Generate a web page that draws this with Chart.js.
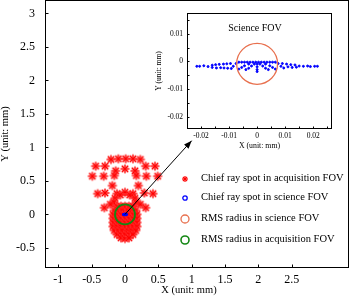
<!DOCTYPE html>
<html>
<head>
<meta charset="utf-8">
<script src="https://cdn.jsdelivr.net/npm/chart.js@4.4.1/dist/chart.umd.min.js"></script>
<style>
    body { margin: 0; background: #fff; }
    .wrap { position: relative; width: 350px; height: 302px; font-family: "Liberation Serif", "Times New Roman", serif; color: #000; }
    #main { position: absolute; left: 0; top: 0; }
    #inset { position: absolute; left: 150px; top: 5px; }
    .txt { position: absolute; white-space: nowrap; line-height: 1; }
    .key { position: absolute; left: 178px; height: 14px; }
    .key svg { position: absolute; left: 0; top: 0; }
    .key span { position: absolute; left: 23px; top: 1px; font-size: 10.5px; white-space: nowrap; line-height: 1; }
</style>
</head>
<body>
<div class="wrap">
    <canvas id="main" width="350" height="302"></canvas>
    <canvas id="inset" width="190" height="150"></canvas>
    <div class="txt" style="left:189px; top:290px; font-size:10.5px; transform:translate(-50%,-50%)">X (unit: mm)</div>
    <div class="txt" style="left:255px; top:28px; font-size:10px; transform:translate(-50%,-50%)">Science FOV</div>
    <div id="keys"></div>
</div>

<script>
    const serif = '"Liberation Serif", "Times New Roman", serif';

    // chief ray spots, acquisition FOV (mm)
    const acqSpots = [
        [-0.21, 0.82], [-0.10, 0.83], [0.01, 0.83], [0.12, 0.83], [0.23, 0.82],
        [-0.44, 0.72], [-0.30, 0.72], [0.31, 0.72], [0.45, 0.72],
        [-0.14, 0.65], [0.00, 0.68], [0.15, 0.65],
        [-0.49, 0.57], [-0.32, 0.57], [-0.16, 0.58], [0.17, 0.58], [0.32, 0.57], [0.49, 0.57],
        [-0.19, 0.43], [0.20, 0.43],
        [-0.41, 0.31], [-0.30, 0.32], [-0.12, 0.31], [0.00, 0.33], [0.12, 0.31], [0.29, 0.32], [0.42, 0.31],
        [-0.07, 0.29], [0.07, 0.29], [-0.15, 0.24], [0.15, 0.24], [-0.17, 0.18], [0.17, 0.18],
        [-0.31, 0.10], [-0.22, 0.15], [0.23, 0.15], [0.31, 0.10],
        [-0.12, 0.12], [-0.06, 0.12], [0.00, 0.12], [0.06, 0.12], [0.12, 0.12],
        [-0.16, 0.06], [-0.10, 0.06], [-0.04, 0.06], [0.04, 0.06], [0.10, 0.06], [0.16, 0.06],
        [-0.18, 0.00], [-0.12, 0.00], [-0.06, 0.00], [0.06, 0.00], [0.12, 0.00], [0.18, 0.00],
        [-0.18, -0.06], [-0.12, -0.06], [-0.06, -0.06], [0.00, -0.06], [0.06, -0.06], [0.12, -0.06], [0.18, -0.06],
        [-0.18, -0.12], [-0.12, -0.12], [-0.06, -0.12], [0.00, -0.12], [0.06, -0.12], [0.12, -0.12], [0.18, -0.12],
        [-0.18, -0.18], [-0.12, -0.18], [-0.06, -0.18], [0.00, -0.18], [0.06, -0.18], [0.12, -0.18], [0.18, -0.18],
        [-0.16, -0.24], [-0.10, -0.24], [-0.04, -0.24], [0.04, -0.24], [0.10, -0.24], [0.16, -0.24],
        [-0.12, -0.30], [-0.06, -0.30], [0.00, -0.30], [0.06, -0.30], [0.12, -0.30],
        [-0.06, -0.35], [0.00, -0.36], [0.06, -0.35]
    ];

    // chief ray spots, science FOV (mm)
    const sciSpots = [
        [-0.0215, -0.0018], [-0.0205, -0.0018], [-0.0190, -0.0016], [-0.0175, -0.0019],
        [-0.0160, -0.0014], [-0.0160, -0.0022], [-0.0148, -0.0012], [-0.0145, -0.0024],
        [-0.0135, -0.0011], [-0.0130, -0.0023], [-0.0120, -0.0010], [-0.0118, -0.0024],
        [-0.0108, -0.0009], [-0.0105, -0.0025], [-0.0095, -0.0008], [-0.0092, -0.0026],
        [-0.0085, -0.0018], [-0.0075, -0.0008],
        [-0.0065, -0.0003], [-0.0055, -0.0003], [-0.0045, -0.0003], [-0.0035, -0.0003],
        [-0.0025, -0.0003], [-0.0015, -0.0003], [-0.0005, -0.0003], [0.0005, -0.0003],
        [0.0015, -0.0003], [0.0025, -0.0003], [0.0035, -0.0003], [0.0045, -0.0003],
        [0.0055, -0.0003], [0.0065, -0.0003],
        [0.0000, -0.0010], [0.0000, -0.0020], [0.0000, -0.0030], [0.0000, -0.0037],
        [-0.0010, -0.0010], [-0.0020, -0.0017], [-0.0030, -0.0025], [-0.0040, -0.0030],
        [0.0010, -0.0010], [0.0020, -0.0017], [0.0030, -0.0025], [0.0040, -0.0030],
        [-0.0030, -0.0010], [-0.0045, -0.0016], [-0.0055, -0.0022], [-0.0065, -0.0028],
        [0.0030, -0.0010], [0.0045, -0.0016], [0.0055, -0.0022], [0.0065, -0.0028],
        [0.0075, -0.0008], [0.0085, -0.0018], [0.0090, -0.0008], [0.0095, -0.0024],
        [0.0105, -0.0010], [0.0110, -0.0020], [0.0120, -0.0012], [0.0125, -0.0022],
        [0.0135, -0.0013], [0.0140, -0.0021], [0.0150, -0.0017], [0.0165, -0.0018],
        [0.0180, -0.0017], [0.0190, -0.0019], [0.0205, -0.0018], [0.0215, -0.0018]
    ];

    // RMS radius circles: centre x, centre y, radius (mm)
    const acqRms = [0, 0, 0.15];
    const sciRms = [0, -0.0009, 0.0073];

    // pointer from the field centre to the inset
    const arrowX = [0, 1.0];
    const arrowY = [0, 1.1];

    const mainXTicks = [-1, -0.5, 0, 0.5, 1, 1.5, 2, 2.5];
    const mainYTicks = [-0.5, 0, 0.5, 1, 1.5, 2, 2.5, 3];
    const insetXTicks = [-0.025, -0.02, -0.015, -0.01, -0.005, 0, 0.005, 0.01, 0.015, 0.02, 0.025];
    const insetYTicks = [-0.02, -0.015, -0.01, -0.005, 0, 0.005, 0.01, 0.015];
    const insetLabelled = [-0.02, -0.01, 0, 0.01, 0.02];

    const legendLabels = [
        'Chief ray spot in acquisition FOV',
        'Chief ray spot in science FOV',
        'RMS radius in science FOV',
        'RMS radius in acquisition FOV'
    ];

    const RED = '#ff0000', BLUE = '#0000ff', ORANGE = 'rgb(232,112,78)', GREEN = 'rgb(20,135,20)';

    function starMark(r) {
        const c = document.createElement('canvas');
        const s = Math.ceil(r * 2 + 2);
        c.width = c.height = s;
        const g = c.getContext('2d');
        const m = s / 2;
        g.fillStyle = 'rgba(255,120,120,0.5)';
        g.beginPath(); g.arc(m, m, r * 0.8, 0, Math.PI * 2); g.fill();
        g.strokeStyle = RED; g.lineWidth = 1.2;
        for (let k = 0; k < 4; k++) {
            const a = k * Math.PI / 4;
            g.beginPath();
            g.moveTo(m - r * Math.cos(a), m - r * Math.sin(a));
            g.lineTo(m + r * Math.cos(a), m + r * Math.sin(a));
            g.stroke();
        }
        return c;
    }

    // box round the plot area, ticks pointing inward, rms circles, arrow head
    const decor = {
        id: 'decor',
        afterDatasetDraw(chart, args, opts) {
            if (!opts.ring || args.index !== opts.ring.after) return;
            const { x, y } = chart.scales;
            const [cx, cy, r] = opts.ring.value;
            const ctx = chart.ctx;
            ctx.save();
            ctx.strokeStyle = opts.ring.color;
            ctx.lineWidth = opts.ring.width;
            ctx.beginPath();
            ctx.arc(x.getPixelForValue(cx), y.getPixelForValue(cy), Math.abs(x.getPixelForValue(cx + r) - x.getPixelForValue(cx)), 0, Math.PI * 2);
            ctx.stroke();
            ctx.restore();
        },
        afterDatasetsDraw(chart, args, opts) {
            const ctx = chart.ctx;
            const a = chart.chartArea;
            const { x, y } = chart.scales;
            ctx.save();
            ctx.strokeStyle = '#000';
            ctx.lineWidth = 1;
            ctx.strokeRect(a.left + 0.5, a.top + 0.5, a.right - a.left - 1, a.bottom - a.top - 1);
            ctx.beginPath();
            x.ticks.forEach(t => {
                const px = Math.round(x.getPixelForValue(t.value)) + 0.5;
                ctx.moveTo(px, a.bottom); ctx.lineTo(px, a.bottom - opts.tick);
            });
            y.ticks.forEach(t => {
                const py = Math.round(y.getPixelForValue(t.value)) + 0.5;
                ctx.moveTo(a.left, py); ctx.lineTo(a.left + opts.tick, py);
            });
            ctx.stroke();
            if (opts.arrow !== undefined) {
                const pts = chart.getDatasetMeta(opts.arrow).data;
                const p0 = pts[0], p1 = pts[pts.length - 1];
                const ang = Math.atan2(p1.y - p0.y, p1.x - p0.x);
                ctx.fillStyle = '#000';
                ctx.beginPath();
                ctx.moveTo(p1.x, p1.y);
                ctx.lineTo(p1.x - 8 * Math.cos(ang) + 3 * Math.sin(ang), p1.y - 8 * Math.sin(ang) - 3 * Math.cos(ang));
                ctx.lineTo(p1.x - 8 * Math.cos(ang) - 3 * Math.sin(ang), p1.y - 8 * Math.sin(ang) + 3 * Math.cos(ang));
                ctx.closePath();
                ctx.fill();
            }
            ctx.restore();
        }
    };

    const toXY = list => list.map(p => ({ x: p[0], y: p[1] }));
    const setTicks = list => scale => { scale.ticks = list.map(v => ({ value: v })); };
    // fixed axis sizes, no extra room kept for end labels
    const fixSize = (w, h) => s => {
        if (w !== null) s.width = w;
        if (h !== null) s.height = h;
        s.paddingTop = s.paddingBottom = s.paddingLeft = s.paddingRight = 0;
    };

    new Chart(document.getElementById('main'), {
        type: 'scatter',
        data: {
            datasets: [
                { label: legendLabels[0], data: toXY(acqSpots), pointStyle: starMark(4.6), order: 3 },
                { label: legendLabels[1], data: toXY(sciSpots), pointRadius: 1, pointBorderWidth: 1, borderColor: BLUE, backgroundColor: BLUE, order: 2 },
                { type: 'line', data: arrowX.map((v, i) => ({ x: v, y: arrowY[i] })), borderColor: '#000', borderWidth: 1, pointRadius: 0, order: 1 }
            ]
        },
        options: {
            responsive: false,
            animation: false,
            devicePixelRatio: 1,
            layout: { autoPadding: false, padding: { left: 0, right: 1, top: 0, bottom: 0 } },
            plugins: {
                legend: { display: false },
                tooltip: { enabled: false },
                decor: { tick: 3.5, arrow: 2, ring: { value: acqRms, after: 0, color: GREEN, width: 1.8 } }
            },
            scales: {
                x: {
                    type: 'linear', min: -1.2, max: 3.36,
                    afterBuildTicks: setTicks(mainXTicks),
                    afterFit: fixSize(null, 34),
                    grid: { display: false, drawTicks: true, tickLength: 5 },
                    border: { display: false },
                    ticks: { color: '#000', font: { family: serif, size: 12 }, padding: 0, maxRotation: 0, autoSkip: false, callback: v => String(v) }
                },
                y: {
                    type: 'linear', min: -0.8, max: 3.2,
                    afterBuildTicks: setTicks(mainYTicks),
                    afterFit: fixSize(45, null),
                    grid: { display: false, drawTicks: true, tickLength: 10 },
                    border: { display: false },
                    ticks: { color: '#000', font: { family: serif, size: 12 }, padding: 0, autoSkip: false, callback: v => String(v) },
                    title: { display: true, text: 'Y (unit: mm)', color: '#000', font: { family: serif, size: 10.5, lineHeight: 1 }, padding: 0 }
                }
            }
        },
        plugins: [decor]
    });

    new Chart(document.getElementById('inset'), {
        type: 'scatter',
        data: {
            datasets: [
                { label: legendLabels[1], data: toXY(sciSpots), pointRadius: 1, pointBorderWidth: 1, borderColor: BLUE, backgroundColor: BLUE }
            ]
        },
        options: {
            responsive: false,
            animation: false,
            devicePixelRatio: 1,
            layout: { autoPadding: false, padding: { left: 0, right: 8, top: 8, bottom: 0 } },
            plugins: {
                legend: { display: false },
                tooltip: { enabled: false },
                decor: { tick: 2.5, ring: { value: sciRms, after: 0, color: ORANGE, width: 1.3 } }
            },
            scales: {
                x: {
                    type: 'linear', min: -0.025, max: 0.0267,
                    afterBuildTicks: setTicks(insetXTicks),
                    afterFit: fixSize(null, 26),
                    grid: { display: false, drawTicks: true, tickLength: 3 },
                    border: { display: false },
                    ticks: { color: '#000', font: { family: serif, size: 7.5 }, padding: 0, maxRotation: 0, autoSkip: false,
                        callback: v => insetLabelled.some(l => Math.abs(l - v) < 1e-9) ? String(+v.toFixed(3)) : '' },
                    title: { display: true, text: 'X (unit: mm)', color: '#000', font: { family: serif, size: 7.8, lineHeight: 1 }, padding: { top: 0, bottom: 5 } }
                },
                y: {
                    type: 'linear', min: -0.0245, max: 0.0175,
                    afterBuildTicks: setTicks(insetYTicks),
                    afterFit: fixSize(37, null),
                    grid: { display: false, drawTicks: true, tickLength: 4 },
                    border: { display: false },
                    ticks: { color: '#000', font: { family: serif, size: 7.5 }, padding: 0, autoSkip: false,
                        callback: v => insetLabelled.some(l => Math.abs(l - v) < 1e-9) ? String(+v.toFixed(3)) : '' },
                    title: { display: true, text: 'Y (unit: mm)', color: '#000', font: { family: serif, size: 7.5, lineHeight: 1 }, padding: { top: 5, bottom: 0 } }
                }
            }
        },
        plugins: [decor]
    });

    // legend
    const keyMarks = [
        `<line x1="4" y1="7" x2="10" y2="7" stroke="${RED}" stroke-width="1.2"/><line x1="7" y1="4" x2="7" y2="10" stroke="${RED}" stroke-width="1.2"/>` +
        `<line x1="4.9" y1="4.9" x2="9.1" y2="9.1" stroke="${RED}" stroke-width="1.2"/><line x1="4.9" y1="9.1" x2="9.1" y2="4.9" stroke="${RED}" stroke-width="1.2"/>`,
        `<circle cx="7" cy="7" r="2.2" fill="none" stroke="${BLUE}" stroke-width="1.3"/>`,
        `<circle cx="7" cy="7" r="4" fill="none" stroke="${ORANGE}" stroke-width="1.3"/>`,
        `<circle cx="7" cy="7" r="4" fill="none" stroke="${GREEN}" stroke-width="1.6"/>`
    ];
    const keyRows = [178.5, 198, 219, 240];
    document.getElementById('keys').innerHTML = legendLabels.map((t, i) =>
        `<div class="key" style="top:${keyRows[i] - 7}px"><svg width="14" height="14">${keyMarks[i]}</svg><span>${t}</span></div>`
    ).join('');
</script>
</body>
</html>
